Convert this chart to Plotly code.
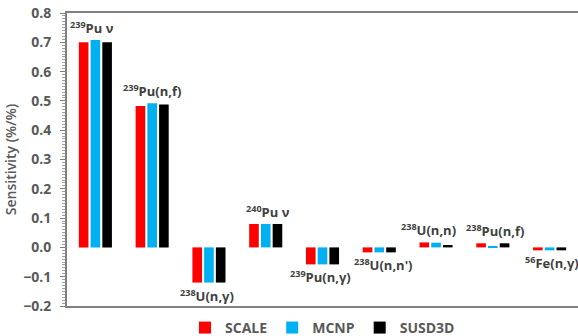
import plotly.graph_objects as go

categories = ["239Pu nu", "239Pu(n,f)", "238U(n,g)", "240Pu nu", "239Pu(n,g)",
              "238U(n,n')", "238U(n,n)", "238Pu(n,f)", "56Fe(n,g)"]
labels = ["<sup>239</sup>Pu ν", "<sup>239</sup>Pu(n,f)", "<sup>238</sup>U(n,γ)",
          "<sup>240</sup>Pu ν", "<sup>239</sup>Pu(n,γ)", "<sup>238</sup>U(n,n')",
          "<sup>238</sup>U(n,n)", "<sup>238</sup>Pu(n,f)", "<sup>56</sup>Fe(n,γ)"]
scale = [0.700, 0.483, -0.120, 0.080, -0.058, -0.017, 0.017, 0.014, -0.010]
mcnp = [0.708, 0.492, -0.120, 0.080, -0.058, -0.017, 0.016, 0.003, -0.010]
susd3d = [0.700, 0.488, -0.120, 0.080, -0.058, -0.017, 0.008, 0.014, -0.010]
series = [("SCALE", scale, "#FF0000"), ("MCNP", mcnp, "#00B0F0"), ("SUSD3D", susd3d, "#000000")]

x = list(range(len(categories)))
fig = go.Figure()
for name, vals, col in series:
    fig.add_trace(go.Bar(x=x, y=vals, name=name, marker=dict(color=col, line=dict(width=0))))

xshifts = [-3, 0, -2, 2, -2, 4, -8, 2, 2]
for i, lab in enumerate(labels):
    vals = [scale[i], mcnp[i], susd3d[i]]
    if max(vals) > 0:
        yv, anchor, ys = max(vals), "bottom", 1
    else:
        yv, anchor, ys = min(vals), "top", -1
    fig.add_annotation(x=i, y=yv, text=lab, showarrow=False, yanchor=anchor,
                       yshift=ys, xshift=xshifts[i],
                       font=dict(family="Open Sans", size=13, color="#404040", weight="bold"))

fig.update_layout(
    width=578, height=336,
    margin=dict(l=67, r=0, t=13, b=30, autoexpand=False),
    plot_bgcolor="white", paper_bgcolor="white",
    barmode="group", bargap=0.38, bargroupgap=0.18,
    font=dict(family="Open Sans", color="#595959"),
    legend=dict(orientation="h", x=0.5, xanchor="center", y=-0.075, yanchor="middle",
                font=dict(size=14, color="#595959", weight="bold"), itemwidth=30,
                traceorder="normal", tracegroupgap=0),
    xaxis=dict(range=[-0.5, 8.5], showticklabels=False, ticks="", showgrid=False,
               showline=True, linecolor="#808080", linewidth=2, mirror=True, zeroline=False),
    yaxis=dict(range=[-0.2, 0.8], dtick=0.1, tickformat=".1f", ticks="outside", ticklen=5,
               tickcolor="#808080", showgrid=False, zeroline=False, showline=True,
               linecolor="#808080", linewidth=2, ticklabelstandoff=6, automargin=False,
               tickfont=dict(size=14, color="#595959", weight="bold"),
               minor=dict(dtick=0.01, ticks="outside", ticklen=3, tickcolor="#a0a0a0"),
               title=dict(text="Sensitivity (%/%)", standoff=3,
                          font=dict(size=14, color="#595959", weight=600))),
)
fig.write_html("out.html", config={"displayModeBar": False},
               post_script="document.body.style.margin='0';document.body.style.overflow='hidden';")
